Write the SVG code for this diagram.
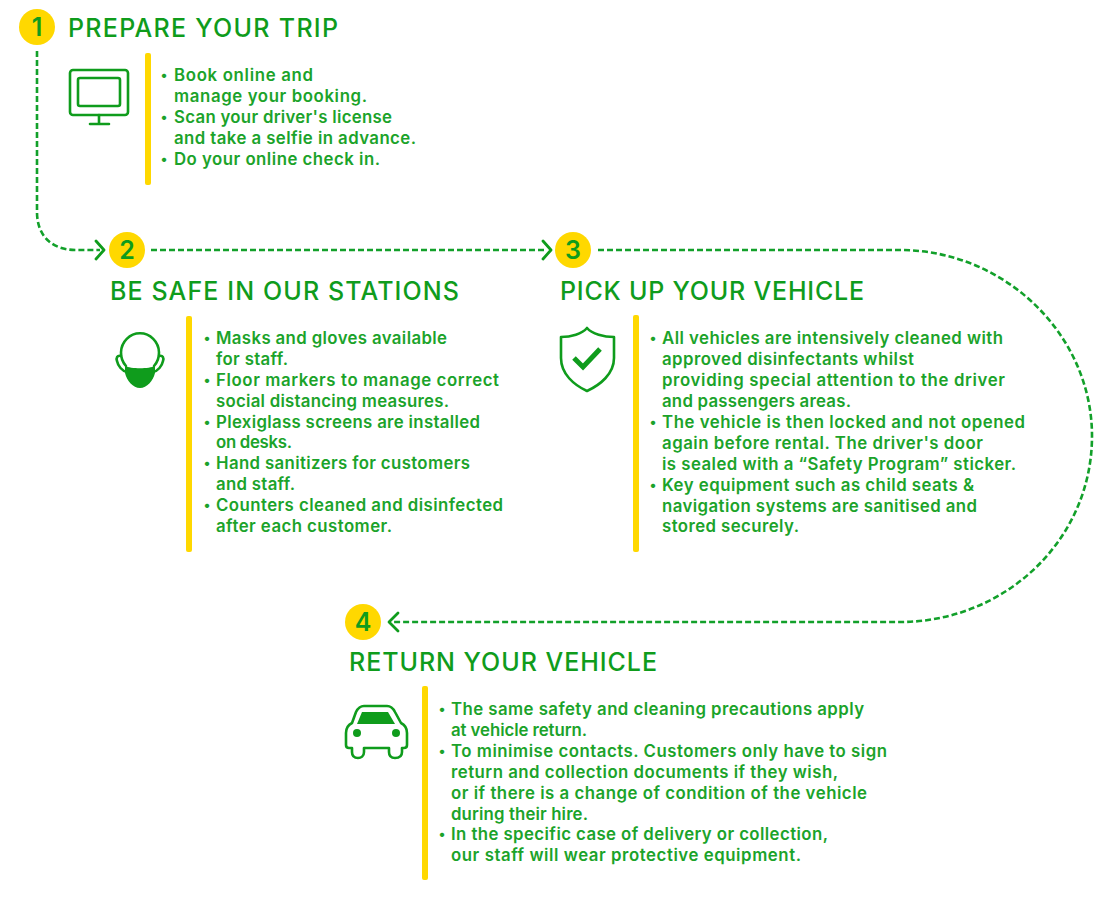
<svg xmlns="http://www.w3.org/2000/svg" width="1096" height="900" viewBox="0 0 1096 900">
<style>
.c{fill:#ffd800}
.n{font:600 25px Inter,"Liberation Sans",sans-serif;fill:#0f9c1c;text-anchor:middle}
.h{font:500 25px Inter,"Liberation Sans",sans-serif;fill:#0f9c1c}
.t{font:600 16.8px Inter,"Liberation Sans",sans-serif;fill:#1ba32a}
.u{font:600 14px Inter,"Liberation Sans",sans-serif;fill:#1ba32a;text-anchor:middle;transform:translateY(-1px)}
.b{fill:#ffd800}
.i{fill:none;stroke:#0f9c1c;stroke-width:2.6;stroke-linejoin:round;stroke-linecap:round}
.f{fill:#0f9c1c}
.d{fill:none;stroke:#12a02a;stroke-width:2.6;stroke-dasharray:6 3}
.a{fill:none;stroke:#0f9c1c;stroke-width:2.8;stroke-linecap:round;stroke-linejoin:round}
</style>
<rect width="1096" height="900" fill="#fff"/>
<g id="connectors">
<path class="d" d="M37 51V212C37 236 52 250 76 250H100"/>
<path class="a" d="M96 241L104 250L96 259"/>
<path class="d" d="M151 250H546"/>
<path class="a" d="M543 241L551 250L543 259"/>
<path class="d" d="M598 250H900C1005 250 1092 335 1092 436C1092 540 1005 622 900 622H392"/>
<path class="a" d="M398 613L389 622L398 631"/>
</g>
<g id="step1">
<circle class="c" cx="37" cy="27" r="18"/><text class="n" x="37" y="36">1</text>
<text class="h" x="68" y="37" textLength="270">PREPARE YOUR TRIP</text>
<g class="i"><rect x="70" y="70" width="58" height="45" rx="3"/><rect x="78" y="78" width="42" height="28" rx="2"/><path d="M99 115V124M90 124H109"/></g>
<rect class="b" x="145" y="53" width="6" height="132" rx="2"/>
<text class="u" x="164" y="81">•</text><text class="t" x="174" y="81" textLength="139">Book online and</text>
<text class="t" x="174" y="102" textLength="193">manage your booking.</text>
<text class="u" x="164" y="123">•</text><text class="t" x="174" y="123" textLength="218">Scan your driver's license</text>
<text class="t" x="174" y="144" textLength="242">and take a selfie in advance.</text>
<text class="u" x="164" y="165">•</text><text class="t" x="174" y="165" textLength="206">Do your online check in.</text>
</g>
<g id="step2">
<circle class="c" cx="127" cy="250" r="18"/><text class="n" x="127" y="259">2</text>
<text class="h" x="110" y="300" textLength="349">BE SAFE IN OUR STATIONS</text>
<path class="i" d="M126 366A19 19.500 0 1 1 154 366"/>
<path class="i" d="M121 356C117 355 116 358 117 361C118 366 122 371 127 372M159 356C163 355 164 358 163 361C162 366 158 371 153 372"/>
<path class="f" d="M125 366C131 369 149 369 155 366V373C153 381 147 388 140 388C133 388 127 381 125 373Z"/>
<rect class="b" x="186" y="316" width="6" height="236" rx="2"/>
<text class="u" x="207" y="344">•</text><text class="t" x="216" y="344" textLength="231">Masks and gloves available</text>
<text class="t" x="216" y="365" textLength="72">for staff.</text>
<text class="u" x="207" y="386">•</text><text class="t" x="216" y="386" textLength="283">Floor markers to manage correct</text>
<text class="t" x="216" y="407" textLength="233">social distancing measures.</text>
<text class="u" x="207" y="428">•</text><text class="t" x="216" y="428" textLength="264">Plexiglass screens are installed</text>
<text class="t" x="216" y="448" textLength="76">on desks.</text>
<text class="u" x="207" y="469">•</text><text class="t" x="216" y="469" textLength="254">Hand sanitizers for customers</text>
<text class="t" x="216" y="490" textLength="79">and staff.</text>
<text class="u" x="207" y="511">•</text><text class="t" x="216" y="511" textLength="287">Counters cleaned and disinfected</text>
<text class="t" x="216" y="532" textLength="176">after each customer.</text>
</g>
<g id="step3">
<circle class="c" cx="573" cy="250" r="18"/><text class="n" x="573" y="259">3</text>
<text class="h" x="560" y="300" textLength="304">PICK UP YOUR VEHICLE</text>
<path class="i" d="M587 328C592 334 604 337 614 337V358C614 374 600 385 587 391C574 385 561 374 561 358V337C571 337 582 334 587 328Z"/>
<path class="a" style="stroke-width:5;stroke-linecap:butt;stroke-linejoin:miter" d="M574 358L583 367L600 349"/>
<rect class="b" x="633" y="315" width="6" height="237" rx="2"/>
<text class="u" x="653" y="344">•</text><text class="t" x="662" y="344" textLength="341">All vehicles are intensively cleaned with</text>
<text class="t" x="662" y="365" textLength="252">approved disinfectants whilst</text>
<text class="t" x="662" y="386" textLength="343">providing special attention to the driver</text>
<text class="t" x="662" y="407" textLength="189">and passengers areas.</text>
<text class="u" x="653" y="428">•</text><text class="t" x="662" y="428" textLength="363">The vehicle is then locked and not opened</text>
<text class="t" x="662" y="449" textLength="321">again before rental. The driver's door</text>
<text class="t" x="662" y="470" textLength="354">is sealed with a “Safety Program” sticker.</text>
<text class="u" x="653" y="491">•</text><text class="t" x="662" y="491" textLength="312">Key equipment such as child seats &amp;</text>
<text class="t" x="662" y="512" textLength="315">navigation systems are sanitised and</text>
<text class="t" x="662" y="532" textLength="137">stored securely.</text>
</g>
<g id="step4">
<circle class="c" cx="363" cy="622" r="18"/><text class="n" x="363" y="631">4</text>
<text class="h" x="349" y="671" textLength="308">RETURN YOUR VEHICLE</text>
<path class="i" d="M352 723L356 712C358 708 360 706 364 706H387C391 706 393 708 395 712L401 723C405 725 407 729 407 733V745C407 747 406 748 404 748H402V752C402 756 399 758 395 758C391 758 389 756 389 752V748H364V752C364 756 361 758 358 758C354 758 352 756 352 752V748H349C347 748 346 747 346 745V733C346 729 348 725 352 723Z"/>
<path class="f" d="M362 712H388L395 724H357Z"/><circle class="f" cx="357" cy="733" r="4"/><circle class="f" cx="396" cy="733" r="4"/>
<rect class="b" x="422" y="686" width="6" height="194" rx="2"/>
<text class="u" x="442" y="715">•</text><text class="t" x="451" y="715" textLength="413">The same safety and cleaning precautions apply</text>
<text class="t" x="451" y="736" textLength="136">at vehicle return.</text>
<text class="u" x="442" y="757">•</text><text class="t" x="451" y="757" textLength="436">To minimise contacts. Customers only have to sign</text>
<text class="t" x="451" y="778" textLength="387">return and collection documents if they wish,</text>
<text class="t" x="451" y="799" textLength="416">or if there is a change of condition of the vehicle</text>
<text class="t" x="451" y="820" textLength="137">during their hire.</text>
<text class="u" x="442" y="840">•</text><text class="t" x="451" y="840" textLength="377">In the specific case of delivery or collection,</text>
<text class="t" x="451" y="861" textLength="350">our staff will wear protective equipment.</text>
</g>
</svg>
